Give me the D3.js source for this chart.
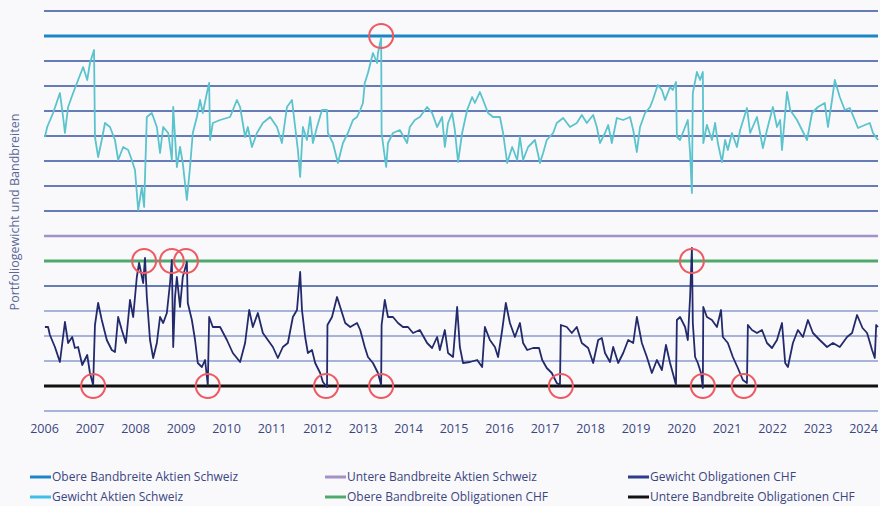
<!DOCTYPE html>
<html>
<head>
<meta charset="utf-8">
<script src="https://cdn.jsdelivr.net/npm/d3@7"></script>
<style>
  html, body { margin: 0; padding: 0; background: #f9f9fb; }
  svg { display: block; font-family: "Open Sans", sans-serif; }
</style>
</head>
<body>
<div id="chart"></div>
<script>
// Gewicht Aktien Schweiz (decimal years / weight units)
const aktienYears = [2006.02, 2006.07, 2006.20, 2006.35, 2006.42, 2006.46, 2006.53, 2006.64, 2006.75, 2006.86, 2006.95, 2007.01, 2007.10, 2007.12, 2007.19, 2007.27, 2007.34, 2007.45, 2007.56, 2007.63, 2007.74, 2007.85, 2007.93, 2008.00, 2008.07, 2008.15, 2008.20, 2008.26, 2008.37, 2008.48, 2008.55, 2008.62, 2008.73, 2008.81, 2008.84, 2008.92, 2008.99, 2009.05, 2009.14, 2009.21, 2009.27, 2009.36, 2009.43, 2009.49, 2009.58, 2009.63, 2009.65, 2009.71, 2009.87, 2010.09, 2010.24, 2010.31, 2010.42, 2010.48, 2010.57, 2010.68, 2010.81, 2010.97, 2011.12, 2011.23, 2011.34, 2011.45, 2011.52, 2011.58, 2011.63, 2011.69, 2011.78, 2011.85, 2011.91, 2012.00, 2012.11, 2012.22, 2012.24, 2012.35, 2012.46, 2012.57, 2012.68, 2012.79, 2012.88, 2012.95, 2013.01, 2013.05, 2013.12, 2013.23, 2013.32, 2013.34, 2013.41, 2013.42, 2013.49, 2013.52, 2013.56, 2013.67, 2013.82, 2013.98, 2014.04, 2014.15, 2014.26, 2014.42, 2014.53, 2014.64, 2014.75, 2014.81, 2014.88, 2014.97, 2015.03, 2015.10, 2015.19, 2015.30, 2015.41, 2015.47, 2015.58, 2015.65, 2015.76, 2015.87, 2016.02, 2016.09, 2016.18, 2016.29, 2016.40, 2016.46, 2016.53, 2016.64, 2016.79, 2016.90, 2016.97, 2017.05, 2017.19, 2017.27, 2017.41, 2017.56, 2017.71, 2017.82, 2017.93, 2018.07, 2018.15, 2018.22, 2018.33, 2018.40, 2018.48, 2018.59, 2018.73, 2018.88, 2018.95, 2019.03, 2019.10, 2019.21, 2019.32, 2019.38, 2019.49, 2019.58, 2019.65, 2019.76, 2019.82, 2019.89, 2019.91, 2019.98, 2020.09, 2020.15, 2020.20, 2020.24, 2020.26, 2020.35, 2020.42, 2020.48, 2020.49, 2020.57, 2020.68, 2020.75, 2020.81, 2020.90, 2020.97, 2021.03, 2021.12, 2021.23, 2021.30, 2021.45, 2021.52, 2021.67, 2021.80, 2021.89, 2022.02, 2022.11, 2022.18, 2022.22, 2022.33, 2022.40, 2022.55, 2022.66, 2022.77, 2022.88, 2023.01, 2023.16, 2023.23, 2023.32, 2023.38, 2023.49, 2023.60, 2023.71, 2023.82, 2023.89, 2024.04, 2024.15, 2024.22, 2024.33];
const aktienValues = [10.96, 11.36, 11.92, 12.72, 11.76, 11.12, 12.16, 12.72, 13.24, 13.76, 13.24, 13.92, 14.44, 10.96, 10.16, 10.84, 11.52, 11.36, 10.84, 10.04, 10.56, 10.44, 10.04, 9.64, 8.04, 8.96, 8.16, 11.76, 11.92, 11.36, 10.32, 11.36, 11.12, 10.04, 12.16, 9.76, 10.56, 9.92, 8.44, 9.76, 11.12, 11.76, 12.44, 11.92, 12.72, 13.12, 10.84, 11.52, 11.64, 11.76, 12.44, 12.16, 10.96, 11.36, 10.56, 11.12, 11.52, 11.76, 11.36, 10.72, 12.16, 12.44, 11.36, 10.44, 9.36, 11.36, 10.84, 11.76, 10.72, 11.36, 12.04, 12.04, 11.12, 10.72, 9.92, 10.72, 11.12, 11.64, 11.76, 12.04, 12.32, 13.12, 13.52, 14.32, 13.92, 14.32, 14.92, 11.12, 10.16, 9.76, 10.72, 11.12, 11.24, 10.72, 11.36, 11.64, 11.76, 12.16, 11.92, 11.36, 11.76, 10.56, 11.52, 11.92, 11.24, 9.96, 11.12, 12.04, 12.56, 12.32, 12.76, 12.44, 11.92, 11.76, 11.76, 11.12, 9.92, 10.56, 10.04, 10.96, 10.04, 10.56, 10.84, 9.92, 10.32, 10.84, 11.12, 11.52, 11.72, 11.36, 11.52, 11.84, 11.52, 11.84, 11.36, 10.72, 11.12, 11.44, 10.72, 11.72, 11.64, 11.76, 11.24, 10.36, 11.36, 11.92, 12.16, 12.44, 13.04, 12.84, 12.44, 12.96, 12.84, 13.16, 10.96, 10.84, 11.36, 11.64, 10.32, 8.72, 12.72, 13.56, 13.24, 13.56, 10.72, 11.44, 10.84, 11.52, 10.72, 9.96, 10.84, 10.44, 11.12, 10.56, 11.24, 12.12, 11.12, 11.76, 10.52, 11.24, 12.16, 11.36, 11.64, 10.44, 12.76, 12.04, 11.64, 11.24, 10.84, 11.92, 12.16, 12.32, 11.36, 12.44, 13.24, 12.56, 12.04, 12.12, 11.64, 11.32, 11.44, 11.52, 11.12, 10.84];

// Gewicht Obligationen CHF
const obligYears = [2006.02, 2006.09, 2006.13, 2006.24, 2006.35, 2006.46, 2006.53, 2006.62, 2006.68, 2006.75, 2006.84, 2006.95, 2007.01, 2007.08, 2007.12, 2007.19, 2007.27, 2007.38, 2007.49, 2007.56, 2007.63, 2007.71, 2007.80, 2007.89, 2007.96, 2008.04, 2008.09, 2008.18, 2008.22, 2008.26, 2008.33, 2008.40, 2008.48, 2008.55, 2008.62, 2008.70, 2008.77, 2008.81, 2008.84, 2008.88, 2008.92, 2008.99, 2009.05, 2009.14, 2009.16, 2009.25, 2009.32, 2009.38, 2009.47, 2009.54, 2009.60, 2009.63, 2009.71, 2009.87, 2010.02, 2010.15, 2010.31, 2010.42, 2010.51, 2010.59, 2010.70, 2010.81, 2010.92, 2011.03, 2011.14, 2011.25, 2011.36, 2011.47, 2011.56, 2011.63, 2011.67, 2011.74, 2011.80, 2011.89, 2011.96, 2012.07, 2012.13, 2012.22, 2012.23, 2012.33, 2012.44, 2012.51, 2012.62, 2012.73, 2012.88, 2012.95, 2013.05, 2013.12, 2013.23, 2013.34, 2013.41, 2013.42, 2013.49, 2013.56, 2013.67, 2013.78, 2013.89, 2014.00, 2014.11, 2014.26, 2014.42, 2014.53, 2014.64, 2014.70, 2014.81, 2014.88, 2014.99, 2015.08, 2015.14, 2015.21, 2015.36, 2015.52, 2015.63, 2015.69, 2015.80, 2015.91, 2015.98, 2016.07, 2016.15, 2016.24, 2016.35, 2016.46, 2016.53, 2016.62, 2016.75, 2016.88, 2016.95, 2017.05, 2017.16, 2017.27, 2017.34, 2017.36, 2017.49, 2017.60, 2017.71, 2017.82, 2017.96, 2018.07, 2018.18, 2018.26, 2018.33, 2018.44, 2018.51, 2018.62, 2018.73, 2018.84, 2018.95, 2019.03, 2019.14, 2019.25, 2019.36, 2019.47, 2019.58, 2019.67, 2019.76, 2019.82, 2019.89, 2019.91, 2019.98, 2020.09, 2020.15, 2020.20, 2020.24, 2020.26, 2020.31, 2020.37, 2020.44, 2020.48, 2020.49, 2020.57, 2020.68, 2020.79, 2020.88, 2020.92, 2021.03, 2021.14, 2021.25, 2021.36, 2021.45, 2021.47, 2021.56, 2021.67, 2021.78, 2021.89, 2022.00, 2022.11, 2022.22, 2022.29, 2022.35, 2022.46, 2022.57, 2022.68, 2022.79, 2022.90, 2023.05, 2023.21, 2023.34, 2023.49, 2023.65, 2023.76, 2023.87, 2023.99, 2024.09, 2024.20, 2024.26, 2024.29, 2024.33];
const obligValues = [3.36, 3.36, 3.04, 2.56, 1.96, 3.56, 2.72, 2.96, 2.52, 2.56, 1.84, 2.24, 1.52, 1.04, 3.44, 4.32, 3.64, 2.84, 2.44, 2.36, 3.76, 3.24, 2.72, 4.44, 3.76, 5.36, 5.92, 5.12, 6.12, 4.56, 2.84, 2.12, 2.72, 3.76, 3.52, 3.92, 5.12, 6.04, 2.56, 4.56, 5.36, 4.16, 5.36, 5.96, 4.32, 3.64, 2.84, 1.92, 1.76, 2.04, 1.04, 3.76, 3.36, 3.36, 2.84, 2.32, 1.96, 2.72, 4.04, 3.36, 3.92, 3.12, 2.84, 2.56, 2.12, 2.56, 2.72, 3.76, 4.04, 5.56, 4.04, 2.96, 2.32, 2.44, 1.92, 1.52, 1.16, 0.96, 3.44, 3.76, 4.56, 4.16, 3.52, 3.36, 3.52, 3.24, 2.56, 2.16, 1.92, 1.52, 1.04, 3.44, 4.44, 3.76, 3.76, 3.52, 3.36, 3.36, 3.12, 3.24, 2.72, 2.52, 2.96, 2.44, 3.24, 2.32, 2.16, 4.16, 2.56, 1.92, 1.96, 2.04, 1.76, 3.36, 2.84, 2.56, 2.16, 3.24, 4.32, 3.52, 2.96, 3.52, 2.72, 2.44, 2.52, 2.52, 2.04, 1.72, 1.52, 1.12, 1.04, 3.44, 3.36, 3.12, 3.36, 2.72, 2.52, 1.92, 2.84, 2.92, 2.32, 1.96, 2.56, 1.92, 2.32, 2.84, 2.72, 3.76, 2.72, 2.16, 1.52, 2.04, 1.64, 2.64, 1.92, 1.52, 1.04, 3.64, 3.76, 3.36, 2.84, 4.56, 6.52, 3.52, 2.16, 1.92, 1.52, 0.92, 4.16, 3.76, 3.64, 3.36, 4.04, 2.96, 2.72, 2.16, 1.72, 1.24, 1.12, 3.44, 3.24, 3.12, 3.24, 2.72, 2.52, 2.84, 3.52, 1.92, 1.76, 2.72, 3.24, 2.96, 3.64, 3.12, 2.84, 2.56, 2.72, 2.56, 2.96, 3.12, 3.84, 3.32, 3.12, 2.44, 2.12, 3.44, 3.36];

// Bandbreiten
const bandNames = ["Obere Bandbreite Aktien Schweiz", "Untere Bandbreite Aktien Schweiz", "Obere Bandbreite Obligationen CHF", "Untere Bandbreite Obligationen CHF"];
const bandValues = [15, 7, 6, 1];

// markierte Berührungen (Jahr, Band-Index)
const hitYears = [2013.41, 2008.20, 2008.81, 2009.12, 2020.24, 2007.08, 2009.60, 2012.20, 2013.41, 2017.36, 2020.48, 2021.38];
const hitBands = [0, 2, 2, 2, 2, 3, 3, 3, 3, 3, 3, 3];

const yearTicks = [2006, 2007, 2008, 2009, 2010, 2011, 2012, 2013, 2014, 2015, 2016, 2017, 2018, 2019, 2020, 2021, 2022, 2023, 2024];
const gridLevels = [0, 1, 2, 3, 4, 5, 6, 7, 8, 9, 10, 11, 12, 13, 14, 15, 16];

const width = 880;
const height = 506;

const x = d3.scaleLinear().domain([2006, 2024.33]).range([44, 878]);
const y = d3.scaleLinear().domain([0, 16]).range([411, 11]);

const bandColors = ["#1a86c8", "#a391c8", "#4daa6c", "#111111"];
const bandWidths = [3, 2.5, 3, 3];

const svg = d3.select("#chart")
  .append("svg")
  .attr("width", width)
  .attr("height", height);

svg.append("rect")
  .attr("width", width)
  .attr("height", height)
  .attr("fill", "#f9f9fb");

// grid
svg.append("g")
  .selectAll("line")
  .data(gridLevels)
  .enter()
  .append("line")
  .attr("x1", x.range()[0])
  .attr("x2", x.range()[1])
  .attr("y1", d => y(d))
  .attr("y2", d => y(d))
  .attr("stroke", d => d >= 5 ? "#3352a2" : "#8a9dd0")
  .attr("stroke-width", 1.3);

// x axis
const xAxis = d3.axisBottom(x)
  .tickValues(yearTicks)
  .tickSize(0)
  .tickPadding(0)
  .tickFormat(d3.format("d"));

svg.append("g")
  .attr("transform", "translate(0," + 425 + ")")
  .call(xAxis)
  .call(g => g.select(".domain").remove())
  .selectAll("text")
  .attr("dy", "0.6em")
  .style("font-family", "'Open Sans', sans-serif")
  .style("font-size", "12.5px")
  .style("fill", "#3b4680");

// y label
svg.append("text")
  .attr("transform", "translate(19," + 212 + ") rotate(-90)")
  .style("text-anchor", "middle")
  .style("font-size", "12.5px")
  .style("fill", "#5a6796")
  .text("Portfoliogewicht und Bandbreiten");

// bands
svg.append("g")
  .selectAll("line")
  .data(bandValues)
  .enter()
  .append("line")
  .attr("x1", x.range()[0])
  .attr("x2", x.range()[1])
  .attr("y1", d => y(d))
  .attr("y2", d => y(d))
  .attr("stroke", (d, i) => bandColors[i])
  .attr("stroke-width", (d, i) => bandWidths[i]);

const line = d3.line()
  .x(d => x(d[0]))
  .y(d => y(d[1]));

svg.append("path")
  .datum(d3.zip(aktienYears, aktienValues))
  .attr("d", line)
  .attr("fill", "none")
  .attr("stroke", "#5bc3cd")
  .attr("stroke-width", 1.8)
  .attr("stroke-linejoin", "round");

svg.append("path")
  .datum(d3.zip(obligYears, obligValues))
  .attr("d", line)
  .attr("fill", "none")
  .attr("stroke", "#232a6c")
  .attr("stroke-width", 1.8)
  .attr("stroke-linejoin", "round");

// circles
svg.append("g")
  .selectAll("circle")
  .data(d3.zip(hitYears, hitBands))
  .enter()
  .append("circle")
  .attr("cx", d => x(d[0]))
  .attr("cy", d => y(bandValues[d[1]]))
  .attr("r", 12)
  .attr("fill", "none")
  .attr("stroke", "#ee5a62")
  .attr("stroke-width", 2);

// legend
const legendItems = [
  { name: bandNames[0], color: "#1a86c8", col: 0, row: 0 },
  { name: "Gewicht Aktien Schweiz", color: "#3dbfe9", col: 0, row: 1 },
  { name: bandNames[1], color: "#a391c8", col: 1, row: 0 },
  { name: bandNames[2], color: "#4daa6c", col: 1, row: 1 },
  { name: "Gewicht Obligationen CHF", color: "#2a3d8f", col: 2, row: 0 },
  { name: bandNames[3], color: "#111111", col: 2, row: 1 }
];
const legendX = [30, 325, 628];
const legendY = [477, 497];

const legend = svg.append("g")
  .selectAll("g")
  .data(legendItems)
  .enter()
  .append("g")
  .attr("transform", d => "translate(" + legendX[d.col] + "," + legendY[d.row] + ")");

legend.append("line")
  .attr("x1", 0)
  .attr("x2", 21)
  .attr("stroke", d => d.color)
  .attr("stroke-width", 3);

legend.append("text")
  .attr("x", 22)
  .attr("dy", "0.35em")
  .style("font-size", "12px")
  .style("fill", "#3b4680")
  .text(d => d.name);
</script>
</body>
</html>
